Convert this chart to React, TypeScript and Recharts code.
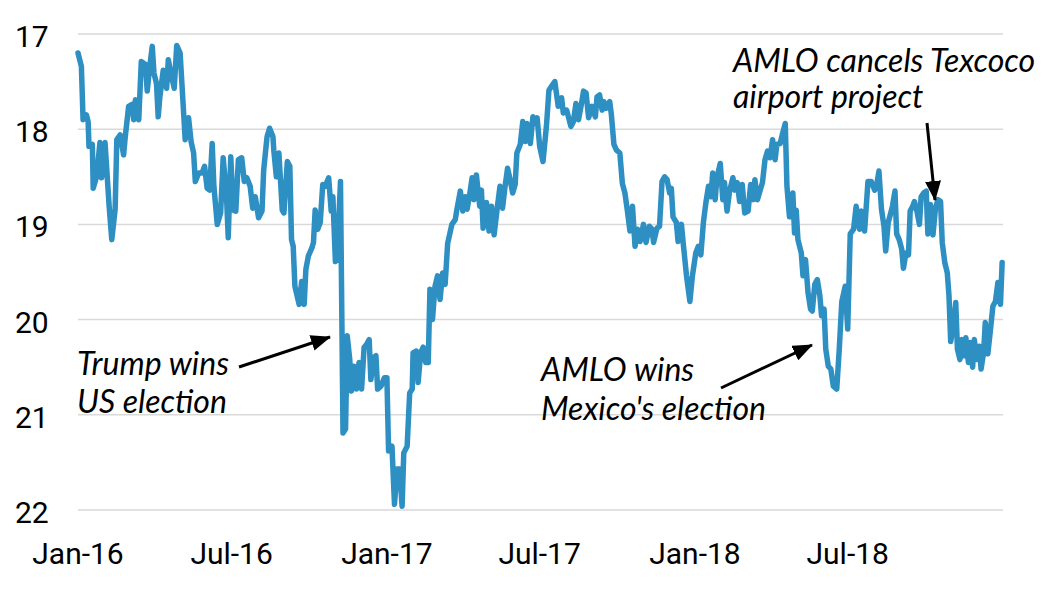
import React from 'react';
import { LineChart, Line, XAxis, YAxis, CartesianGrid } from 'recharts';

// USD/MXN exchange rate, [days since 1 Jan 2016, rate]
const rate2016: [number, number][] = [
  [0, 17.2], [4, 17.34], [6, 17.9], [10, 17.85], [12, 17.92], [13, 18.18], [17, 18.16], [18, 18.62], [22, 18.5], [26, 18.14],
  [28, 18.51], [32, 18.14], [37, 18.82], [40, 19.16], [44, 18.84], [46, 18.11], [50, 18.06], [54, 18.27], [56, 18.08], [60, 17.76],
  [64, 17.74], [66, 17.9], [68, 17.69], [72, 17.9], [75, 17.29], [80, 17.32], [82, 17.6], [85, 17.34], [88, 17.13], [90, 17.41],
  [93, 17.52], [95, 17.87], [97, 17.66], [101, 17.38], [105, 17.57], [107, 17.27], [111, 17.45], [114, 17.57], [117, 17.12], [121, 17.2],
  [127, 18.11], [131, 17.88], [134, 18.13], [137, 18.25], [139, 18.55], [143, 18.46], [147, 18.46], [150, 18.39], [153, 18.62], [156, 18.64],
  [159, 18.15], [161, 18.6], [165, 19.0], [169, 18.88], [172, 18.3], [176, 18.71], [178, 19.14], [181, 18.29], [184, 18.85], [187, 18.86],
  [190, 18.32], [194, 18.3], [197, 18.55], [200, 18.51], [204, 18.6], [207, 18.83], [210, 18.71], [214, 18.93], [218, 18.86], [220, 18.43],
  [224, 18.08], [227, 17.99], [231, 18.08], [232, 18.22], [235, 18.5], [238, 18.25], [242, 18.85], [244, 18.88], [248, 18.34], [251, 18.39],
  [253, 19.16], [255, 19.23], [257, 19.65], [262, 19.84], [265, 19.6], [268, 19.84], [270, 19.47], [273, 19.33], [277, 19.25], [279, 19.19],
  [281, 18.85], [284, 19.05], [287, 18.98], [290, 18.58], [293, 18.6], [297, 18.51], [300, 18.86], [302, 18.71], [305, 19.39], [307, 19.37],
  [311, 18.55], [314, 21.19], [317, 21.15], [319, 20.17], [322, 20.42], [324, 20.75], [327, 20.49], [330, 20.73], [333, 20.45], [336, 20.73],
  [339, 20.29], [342, 20.26], [345, 20.21], [347, 20.63], [350, 20.4], [353, 20.38], [355, 20.73], [359, 20.7], [363, 20.61],
];

const rate2017: [number, number][] = [
  [366, 20.61], [368, 21.38], [372, 21.33], [375, 21.94], [378, 21.57], [381, 21.57], [384, 21.96], [386, 21.4], [390, 21.33], [393, 20.77],
  [396, 20.73], [397, 20.35], [401, 20.33], [403, 20.66], [406, 20.35], [409, 20.29], [412, 20.45], [415, 20.45], [417, 19.68], [420, 20.0],
  [423, 19.65], [426, 19.54], [429, 19.79], [432, 19.51], [435, 19.63], [438, 19.2], [443, 19.0], [447, 18.95], [449, 18.84], [453, 18.65],
  [456, 18.86], [459, 18.71], [461, 18.84], [464, 18.69], [467, 18.51], [469, 18.74], [472, 18.48], [476, 18.81], [478, 18.64], [480, 19.04],
  [484, 18.77], [487, 19.07], [490, 18.81], [493, 19.11], [497, 18.81], [500, 18.6], [503, 18.83], [506, 18.6], [509, 18.41], [512, 18.53],
  [515, 18.67], [518, 18.58], [520, 18.25], [524, 18.16], [527, 17.92], [530, 18.13], [532, 17.94], [536, 18.15], [539, 17.87], [542, 17.94],
  [544, 17.88], [547, 18.18], [551, 18.34], [555, 17.97], [558, 17.59], [561, 17.55], [565, 17.5], [569, 17.76], [573, 17.67], [575, 17.83],
  [579, 17.8], [584, 17.97], [587, 17.92], [590, 17.73], [593, 17.9], [596, 17.76], [599, 17.6], [602, 17.62], [605, 17.88], [609, 17.76],
  [613, 17.87], [615, 17.66], [618, 17.64], [621, 17.8], [623, 17.71], [626, 17.78], [630, 17.71], [632, 17.85], [635, 18.16], [638, 18.22],
  [642, 18.25], [645, 18.57], [648, 18.67], [651, 18.86], [654, 19.07], [657, 18.81], [660, 19.23], [663, 19.05], [666, 19.18], [670, 19.0],
  [673, 19.19], [677, 19.02], [680, 19.05], [682, 19.19], [686, 19.04], [689, 19.02], [692, 18.55], [695, 18.5], [698, 18.53], [701, 18.67],
  [703, 18.62], [705, 18.92], [709, 18.98], [711, 19.18], [715, 19.0], [717, 19.19], [721, 19.54], [725, 19.81], [728, 19.54],
];

const rate2018: [number, number][] = [
  [732, 19.3], [735, 19.23], [738, 19.32], [741, 18.98], [744, 18.77], [747, 18.6], [750, 18.71], [752, 18.46], [755, 18.74], [757, 18.51],
  [761, 18.36], [764, 18.74], [766, 18.56], [769, 18.86], [772, 18.65], [776, 18.51], [778, 18.64], [781, 18.56], [784, 18.76], [787, 18.58],
  [790, 18.88], [794, 18.86], [797, 18.58], [800, 18.74], [802, 18.53], [805, 18.74], [808, 18.65], [811, 18.56], [814, 18.32], [817, 18.23],
  [820, 18.3], [823, 18.11], [826, 18.32], [828, 18.16], [832, 18.15], [835, 18.04], [838, 17.94], [840, 18.6], [843, 18.92], [847, 18.67],
  [849, 19.09], [851, 18.85], [853, 19.16], [857, 19.3], [859, 19.54], [862, 19.37], [865, 19.72], [868, 19.89], [870, 19.91], [873, 19.63],
  [876, 19.58], [879, 19.75], [881, 19.96], [884, 19.89], [886, 20.31], [889, 20.49], [892, 20.52], [895, 20.7], [899, 20.73], [902, 20.31],
  [905, 19.81], [909, 19.65], [912, 20.1], [915, 19.1], [919, 19.05], [922, 18.81], [926, 19.05], [928, 18.86], [932, 19.07], [936, 18.55],
  [940, 18.55], [944, 18.64], [947, 18.55], [949, 18.44], [952, 18.84], [955, 19.02], [957, 19.28], [960, 18.98], [963, 18.88], [965, 18.81],
  [968, 18.65], [970, 19.1], [973, 19.16], [976, 19.26], [978, 19.46], [981, 19.3], [984, 19.32], [986, 18.86], [989, 18.81], [991, 18.76],
  [994, 18.86], [997, 19.0], [999, 18.71], [1002, 18.67], [1005, 18.65], [1007, 19.1], [1010, 18.79], [1013, 19.11], [1016, 18.83], [1019, 18.74],
  [1022, 18.76], [1024, 19.19], [1027, 19.4], [1030, 19.51], [1032, 19.75], [1034, 20.23], [1037, 20.07], [1040, 19.82], [1042, 20.31], [1045, 20.42],
  [1047, 20.21], [1049, 20.38], [1052, 20.19], [1055, 20.45], [1057, 20.24], [1060, 20.5], [1062, 20.21], [1065, 20.42], [1068, 20.28], [1070, 20.52],
  [1073, 20.35], [1075, 20.03], [1078, 20.36], [1081, 20.12], [1084, 19.86], [1087, 19.81], [1090, 19.61], [1093, 19.84], [1095, 19.4],
];

const tickDays = [0, 182, 366, 547, 731, 912];
const tickLabels = ['Jan-16', 'Jul-16', 'Jan-17', 'Jul-17', 'Jan-18', 'Jul-18'];
const yTicks = [17, 18, 19, 20, 21, 22];

const data = [...rate2016, ...rate2017, ...rate2018].map(([day, rate]) => ({ day, rate }));

const W = 1044;
const H = 580;
const LINE_COLOR = '#2e8fc2';
const TICK_FONT = 'Roboto, "Liberation Sans", Arial, sans-serif';
const NOTE_FONT = 'Lato, "Open Sans", sans-serif';

const XTick = (props: any) => {
  const { x, y, payload } = props;
  const i = tickDays.indexOf(payload.value);
  return (
    <text x={x} y={y + 54} textAnchor="middle" fontFamily={TICK_FONT} fontSize={30} fill="#000">
      {tickLabels[i]}
    </text>
  );
};

const YTick = (props: any) => {
  const { y, payload } = props;
  return (
    <text x={7} y={y + 13} textAnchor="start" fontFamily={TICK_FONT} fontSize={30} fill="#000">
      {payload.value}
    </text>
  );
};

export default function App() {
  return (
    <div style={{ position: 'relative', width: W, height: H }}>
      <LineChart width={W} height={H} data={data} margin={{ top: 26, right: 49, bottom: 18, left: 0 }}>
        <CartesianGrid vertical={false} stroke="#d9d9d9" strokeWidth={1.5} />
        <XAxis
          dataKey="day"
          type="number"
          domain={[0, 1096]}
          ticks={tickDays}
          interval={0}
          axisLine={false}
          tickLine={false}
          tickSize={0}
          tickMargin={0}
          height={60}
          tick={<XTick />}
        />
        <YAxis
          type="number"
          domain={[17, 22]}
          reversed
          ticks={yTicks}
          interval={0}
          axisLine={false}
          tickLine={false}
          tickSize={0}
          tickMargin={0}
          width={70}
          tick={<YTick />}
        />
        <Line
          type="linear"
          dataKey="rate"
          stroke={LINE_COLOR}
          strokeWidth={5.5}
          strokeLinejoin="round"
          strokeLinecap="round"
          dot={false}
          activeDot={false}
          isAnimationActive={false}
        />
      </LineChart>
      <svg
        width={W}
        height={H}
        style={{ position: 'absolute', left: 0, top: 0, pointerEvents: 'none' }}
      >
        <defs>
          <marker id="ah" markerWidth="20" markerHeight="16" refX="19" refY="8" orient="auto" markerUnits="userSpaceOnUse">
            <path d="M0,0 L20,8 L0,16 z" fill="#000" />
          </marker>
        </defs>
        <g fontFamily={NOTE_FONT} fontStyle="italic" fontSize={32} fill="#000">
          <text x={69} y={367}>Trump wins</text>
          <text x={69} y={405}>US election</text>
          <text x={533} y={373}>AMLO wins</text>
          <text x={533} y={412}>Mexico's election</text>
          <text x={725} y={64}>AMLO cancels Texcoco</text>
          <text x={725} y={100}>airport project</text>
        </g>
        <g stroke="#000" strokeWidth={3} fill="none">
          <line x1={231} y1={359} x2={322} y2={329} markerEnd="url(#ah)" />
          <line x1={713} y1={380} x2={804} y2={337} markerEnd="url(#ah)" />
          <line x1={919} y1={115} x2={927} y2={192} markerEnd="url(#ah)" />
        </g>
      </svg>
    </div>
  );
}
